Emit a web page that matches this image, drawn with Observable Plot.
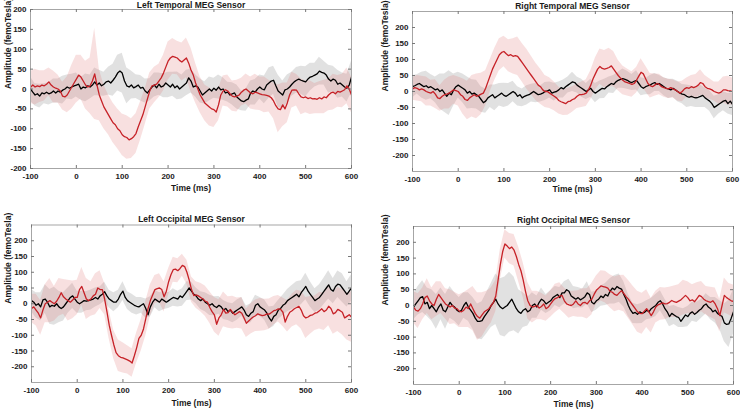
<!DOCTYPE html>
<html><head><meta charset="utf-8">
<script src="https://cdn.jsdelivr.net/npm/d3@7"></script>
<script src="https://cdn.jsdelivr.net/npm/@observablehq/plot@0.6"></script>
<style>
body{margin:0;background:#fff}
#chart{position:relative;width:740px;height:409px;overflow:hidden;background:#fff}
#chart svg{position:absolute}
</style>
</head><body><div id="chart"></div>
<script>
// ---- axes / labels ----
const xTicks = [-100, 0, 100, 200, 300, 400, 500, 600];
const yTicks = [-200, -150, -100, -50, 0, 50, 100, 150, 200];
const panelTitles = ["Left Temporal MEG Sensor", "Right Temporal MEG Sensor", "Left Occipital MEG Sensor", "Right Occipital MEG Sensor"];
const yLabel = "Amplitude (femoTesla)";
const xLabel = "Time (ms)";
const times5 = d3.range(-100, 601, 5);    // mean traces sampled every 5 ms
const times10 = d3.range(-100, 601, 10);  // band half-widths sampled every 10 ms

// ---- Left Temporal ----
const ltRed = [
  4, 10, 5, 8, 6, 10, 8, 12, 18, 10,
  5, 2, 0, -5, -18, -20, -15, -5, 5, 15,
  25, 35, 30, 20, 10, 5, 8, 20, 38, 10,
  -15, -30, -45, -55, -65, -75, -85, -90, -100, -105,
  -115, -120, -122, -128, -125, -120, -112, -95, -80, -65,
  -45, -25, -5, 8, 10, 12, 20, 28, 40, 55,
  70, 78, 82, 80, 78, 72, 68, 73, 78, 65,
  48, 35, 15, 0, -15, -25, -35, -40, -45, -50,
  -52, -58, -40, -15, -5, -2, -5, -12, -18, -20,
  -18, -15, -8, -3, 0, -5, -10, -12, -8, -10,
  -12, -14, -15, -16, -18, -22, -30, -42, -50, -52,
  -40, -50, -35, -15, -3, -2, -3, -12, -20, -22,
  -20, -24, -22, -25, -24, -26, -22, -25, -20, -22,
  -15, -10, -8, -12, -6, -8, -5, -2, 8, 0,
  -15];
const ltBlack = [
  0, -8, -15, -12, -18, -10, -12, -8, -12, -10,
  -5, -10, -5, -8, -3, 0, 5, 2, 5, 8,
  10, 12, 0, 5, 3, 8, 5, 10, 18, 10,
  15, 8, 12, 18, 20, 15, 22, 30, 40, 45,
  40, 20, 8, 5, 10, 3, 6, 10, 2, 4,
  -5, -10, -2, 5, 10, 3, 12, 5, 8, 15,
  10, 5, 12, 3, 8, 0, 5, 10, 15, 28,
  20, 5, 8, 5, -5, -15, -10, -5, 0, -5,
  2, -3, 5, -2, 0, -10, -8, -15, -12, -10,
  -20, -25, -30, -32, -28, -25, -10, -5, -8, 0,
  5, 0, -2, 10, 15, 20, 22, 8, -5, -10,
  -15, -2, 0, 5, 12, 18, 22, 25, 22, 20,
  18, 25, 30, 32, 35, 38, 45, 42, 40, 35,
  25, 20, 25, 22, 12, 15, 10, 5, 2, 10,
  30];
const ltRedSd = [
  40, 45, 40, 38, 35, 40, 35, 35, 45, 55,
  60, 55, 60, 70, 115, 65, 55, 50, 50, 50,
  52, 55, 50, 50, 48, 45, 45, 45, 42, 45,
  48, 45, 42, 48, 50, 55, 50, 45, 45, 48,
  45, 40, 38, 40, 38, 40, 35, 38, 40, 45,
  42, 45, 40, 45, 60, 55, 50, 45, 40, 45,
  40, 42, 38, 40, 42, 40, 45, 40, 42, 45,
  45];
const ltBlackSd = [
  30, 28, 30, 25, 28, 30, 30, 35, 30, 32,
  30, 28, 35, 30, 35, 32, 30, 35, 40, 45,
  50, 45, 35, 30, 32, 30, 28, 30, 28, 30,
  32, 30, 35, 30, 32, 30, 28, 30, 28, 30,
  25, 30, 28, 25, 28, 30, 25, 28, 30, 32,
  30, 35, 38, 35, 40, 35, 35, 30, 32, 35,
  38, 35, 30, 35, 30, 35, 32, 35, 30, 35,
  40];

// ---- Right Temporal ----
const rtRed = [
  8, 12, 10, 5, 8, 5, 0, -3, -5, 0,
  -8, -20, -22, -15, -10, -8, -5, 0, 5, 3,
  0, -10, -15, -25, -28, -20, -15, -10, -15, -12,
  -8, -5, 10, 30, 50, 70, 85, 100, 115, 122,
  125, 118, 112, 115, 110, 112, 110, 100, 90, 80,
  70, 60, 50, 40, 30, 20, 15, 5, 0, 0,
  -5, -10, -15, -20, -28, -32, -35, -38, -32, -30,
  -25, -22, -15, -10, -10, -8, -5, 5, 20, 40,
  55, 70, 78, 72, 70, 72, 75, 80, 70, 60,
  50, 42, 35, 30, 28, 25, 22, 25, 35, 48,
  60, 55, 40, 25, 18, 15, 20, 25, 22, 15,
  12, 10, 8, 12, 8, 5, 0, -5, 0, 8,
  12, 10, 15, 12, 15, 20, 28, 25, 15, 10,
  8, 5, 0, -3, -5, -2, 5, 5, 3, 2,
  0];
const rtBlack = [
  15, 18, 22, 25, 20, 15, 18, 12, 15, 10,
  5, 8, 0, 5, -5, -15, -5, -10, 5, 15,
  20, 15, 10, 5, -5, 0, -8, -5, -10, -15,
  -25, -35, -30, -20, -15, -10, -20, -15, -10, -5,
  -12, -15, -10, -5, 0, -5, -15, -10, -20, -15,
  -12, -10, -5, 0, -5, -10, -8, -5, 0, 2,
  5, -5, -2, 0, 5, 12, 8, 15, 20, 25,
  30, 28, 20, 15, 10, 5, 0, 5, 10, 0,
  -5, 0, 5, 10, 8, 15, 20, 25, 22, 30,
  35, 38, 40, 38, 35, 30, 28, 32, 35, 25,
  15, 10, 15, 18, 20, 25, 28, 22, 25, 20,
  15, 10, 8, 5, 10, 5, 0, -5, -8, -10,
  -15, -18, -15, -18, -20, -18, -15, -12, -20, -25,
  -30, -38, -50, -45, -40, -35, -30, -28, -38, -30,
  -40];
const rtRedSd = [
  35, 40, 40, 45, 40, 45, 40, 45, 50, 45,
  45, 55, 60, 65, 70, 65, 55, 50, 50, 50,
  48, 50, 55, 60, 60, 62, 60, 58, 55, 50,
  48, 45, 42, 40, 42, 40, 38, 40, 42, 45,
  50, 55, 58, 60, 55, 48, 45, 42, 40, 40,
  42, 40, 38, 35, 32, 30, 30, 28, 30, 32,
  30, 35, 38, 40, 35, 32, 30, 35, 40, 45,
  42];
const rtBlackSd = [
  35, 30, 40, 45, 38, 40, 55, 60, 70, 50,
  40, 45, 50, 45, 45, 40, 38, 35, 40, 35,
  38, 35, 32, 30, 28, 30, 28, 30, 25, 28,
  25, 28, 25, 28, 25, 30, 25, 28, 25, 28,
  30, 28, 30, 25, 28, 25, 30, 28, 25, 30,
  28, 25, 30, 28, 25, 28, 30, 28, 32, 30,
  35, 32, 30, 35, 30, 32, 35, 30, 30, 32,
  35];

// ---- Left Occipital ----
const loRed = [
  -15, -10, -20, -30, -45, -20, 0, 5, 10, 5,
  0, 8, 20, 35, 22, 15, 10, 5, 12, 20,
  20, 45, 55, 35, 15, 10, 15, 25, 30, 50,
  45, 45, 15, -25, -68, -100, -130, -155, -165, -170,
  -172, -175, -178, -182, -188, -165, -140, -110, -100, -80,
  -47, -15, 10, 28, 45, 48, 50, 45, 22, 40,
  70, 92, 108, 110, 105, 112, 122, 118, 100, 75,
  45, 26, 28, 25, 20, 15, 8, 5, -12, -25,
  -35, -65, -45, -35, -18, -30, -28, -18, -28, -35,
  -30, -25, -30, -45, -62, -55, -48, -42, -38, -32,
  -35, -38, -36, -32, -33, -28, -22, -20, -16, -18,
  -27, -58, -40, -27, -22, -16, -12, -8, -20, -38,
  -45, -42, -37, -35, -30, -28, -22, -16, -25, -20,
  -8, -15, -32, -28, -18, -22, -27, -45, -40, -35,
  -42];
const loBlack = [
  10, 5, -5, 0, -10, 12, 15, 5, -10, -5,
  -8, 0, -10, -15, -10, 0, 10, 20, 25, 15,
  5, 0, 5, 10, 8, 10, 12, 15, 20, 15,
  25, 30, 38, 25, 15, 10, 5, 5, 15, 30,
  40, 20, 10, 5, 0, -5, -8, -10, -5, 0,
  -15, -35, -10, 5, 15, 10, 5, 15, 10, 5,
  10, 15, 20, 18, 15, 25, 20, 30, 40, 50,
  40, 30, 25, 15, 10, 15, 5, 0, -5, 0,
  -8, -12, -5, -10, -20, -15, -25, -20, -30, -25,
  -20, -15, -10, -20, -35, -40, -30, -25, -5, 0,
  -10, -15, -20, -30, -45, -55, -40, -35, -20, -15,
  -5, 0, 10, 15, 20, 25, 30, 22, 35, 45,
  55, 40, 30, 20, 10, 15, 20, 30, 40, 50,
  60, 45, 40, 55, 62, 60, 50, 40, 30, 40,
  50];
const loRedSd = [
  45, 50, 55, 60, 70, 55, 60, 55, 65, 60,
  55, 60, 65, 55, 65, 60, 50, 45, 45, 50,
  48, 45, 45, 48, 50, 55, 50, 45, 45, 48,
  42, 40, 38, 35, 38, 40, 42, 45, 48, 50,
  55, 58, 55, 50, 52, 48, 50, 45, 48, 50,
  52, 50, 48, 45, 42, 45, 50, 52, 55, 60,
  65, 60, 55, 58, 60, 62, 65, 70, 72, 75,
  80];
const loBlackSd = [
  35, 40, 45, 45, 55, 60, 50, 45, 40, 40,
  35, 35, 30, 32, 30, 28, 30, 28, 30, 28,
  30, 28, 30, 28, 25, 30, 32, 28, 30, 28,
  25, 28, 25, 28, 30, 28, 25, 28, 30, 32,
  30, 28, 30, 28, 30, 32, 30, 28, 30, 32,
  30, 32, 35, 32, 30, 32, 35, 38, 40, 38,
  42, 40, 38, 40, 42, 45, 40, 42, 45, 40,
  42];

// ---- Right Occipital ----
const roRed = [
  -5, -15, -18, -10, 5, 25, 30, 15, 5, 0,
  20, 35, 25, 15, 5, 0, -5, 0, -8, -10,
  -18, -20, -15, -5, -10, 5, -10, -25, -35, -40,
  -30, -20, -15, -10, 0, 10, 30, 80, 130, 170,
  195, 188, 180, 185, 175, 155, 130, 110, 80, 45,
  15, 0, -5, -3, 0, -8, -3, 5, -10, -5,
  5, 15, 22, 25, 30, 32, 15, 5, 2, 0,
  5, 15, 5, 0, 8, 10, 5, 15, 20, 35,
  48, 55, 62, 60, 58, 55, 45, 42, 35, 32,
  40, 47, 38, 28, 20, 10, 0, -10, -20, -25,
  -26, -18, -10, -20, -32, -20, -5, 2, 5, 8,
  5, 6, 10, 16, 12, 10, 14, 18, 25, 32,
  25, 15, 18, 12, 22, 32, 28, 20, 15, 12,
  10, 15, 5, -10, -32, 0, 32, 25, 20, 15,
  13];
const roBlack = [
  -5, 5, 15, 25, 28, 5, 10, -10, 0, -10,
  -20, -5, 5, -15, -20, -5, 10, 0, -5, -15,
  -20, -15, 0, 10, -5, -15, -25, -40, -50, -50,
  -48, -35, -25, -15, 0, 10, 20, 5, -5, -10,
  -5, 0, 10, 20, 5, -10, -20, -25, -15, -10,
  -20, -15, 0, 5, -5, 10, 20, 15, 5, 10,
  15, 25, 30, 35, 25, 40, 40, 50, 45, 30,
  25, 20, 25, 18, 22, 28, 40, 35, 10, 5,
  15, 20, 30, 25, 35, 30, 45, 55, 50, 60,
  55, 52, 35, 20, 0, -15, -25, -22, -28, -20,
  -25, -22, -15, -20, -10, -5, 0, 10, 15, 5,
  -10, -20, -35, -25, -30, -35, -38, -50, -40, -30,
  -35, -25, -20, -28, -22, -15, -10, 0, 5, -5,
  -10, -20, -15, -25, -30, -35, -55, -60, -58, -40,
  -20];
const roRedSd = [
  50, 55, 50, 55, 50, 55, 50, 48, 55, 50,
  52, 55, 60, 70, 75, 70, 60, 55, 50, 48,
  45, 48, 50, 55, 55, 58, 50, 45, 42, 40,
  42, 45, 42, 40, 42, 40, 42, 45, 48, 50,
  45, 48, 50, 52, 55, 55, 58, 60, 62, 65,
  65, 60, 55, 50, 52, 50, 48, 50, 52, 55,
  50, 48, 50, 48, 45, 48, 50, 52, 55, 50,
  52];
const roBlackSd = [
  40, 45, 50, 45, 50, 55, 50, 55, 50, 45,
  45, 40, 45, 50, 55, 60, 65, 70, 80, 90,
  95, 95, 85, 70, 55, 45, 40, 35, 35, 30,
  32, 30, 32, 35, 38, 35, 32, 30, 35, 32,
  30, 32, 35, 40, 45, 45, 40, 35, 32, 30,
  32, 30, 32, 35, 32, 30, 32, 30, 32, 30,
  32, 30, 32, 30, 32, 35, 40, 45, 60, 75,
  70];

// ---- drawing ----
const RED = "#c62127";
const FONT = "'Liberation Sans', Arial, Helvetica, sans-serif";

function band(mean, sd) {
  return times10.map((t, i) => ({t, lo: mean[2 * i] - sd[i], hi: mean[2 * i] + sd[i]}));
}
function trace(vals) {
  return times5.map((t, i) => ({t, v: vals[i]}));
}

function drawPanel(p) {
  const {title, red, black, redSd, blackSd, yDomain, left, top, width, height, mt, mr, mb, ml, yLabelDx, xLabelDy, titleDy} = p;
  const ph = height - mt - mb, pw = width - ml - mr;
  const svg = Plot.plot({
    width, height,
    marginTop: mt, marginRight: mr, marginBottom: mb, marginLeft: ml,
    x: {domain: [-100, 600]},
    y: {domain: yDomain},
    style: {fontFamily: FONT, fontSize: "8px", fontWeight: "bold", color: "#1a1a1a", background: "transparent", overflow: "visible"},
    marks: [
      Plot.area(band(black, blackSd), {x1: "t", y1: "lo", y2: "hi", fill: "#8c8c8c", fillOpacity: 0.26, clip: true}),
      Plot.area(band(red, redSd), {x1: "t", y1: "lo", y2: "hi", fill: "#e07878", fillOpacity: 0.23, clip: true}),
      Plot.lineY(trace(black), {x: "t", y: "v", stroke: "#000", strokeWidth: 1.3, clip: true}),
      Plot.lineY(trace(red), {x: "t", y: "v", stroke: RED, strokeWidth: 1.3, clip: true}),
      Plot.frame({stroke: "#a6a6a6"}),
      Plot.tickX(xTicks, {x: d => d, insetTop: ph - 3, stroke: "#777"}),
      Plot.tickX(xTicks, {x: d => d, insetBottom: ph - 3, stroke: "#777"}),
      Plot.tickY(yTicks, {y: d => d, insetRight: pw - 3, stroke: "#777"}),
      Plot.tickY(yTicks, {y: d => d, insetLeft: pw - 3, stroke: "#777"}),
      Plot.axisX(xTicks, {tickSize: 0, tickPadding: 5, tickFormat: d => String(d), label: null}),
      Plot.axisY(yTicks, {tickSize: 0, tickPadding: 4, tickFormat: d => String(d), label: null}),
      Plot.text([title], {text: d => d, frameAnchor: "top", dy: titleDy, fontSize: 8.5, fontWeight: "bold", lineAnchor: "middle", fill: "#1a1a1a"}),
      Plot.text([xLabel], {text: d => d, frameAnchor: "bottom", dy: xLabelDy, fontSize: 8.5, fontWeight: "bold", lineAnchor: "middle", fill: "#1a1a1a"}),
      Plot.text([yLabel], {text: d => d, frameAnchor: "left", dx: yLabelDx, rotate: -90, fontSize: 8.5, fontWeight: "bold", lineAnchor: "middle", fill: "#1a1a1a"})
    ]
  });
  svg.style.left = left + "px";
  svg.style.top = top + "px";
  document.getElementById("chart").appendChild(svg);
}

drawPanel({title: panelTitles[0], red: ltRed, black: ltBlack, redSd: ltRedSd, blackSd: ltBlackSd,
  yDomain: [-200, 200], left: 0, top: 0, width: 370, height: 205, mt: 9, mr: 19, mb: 37, ml: 30, yLabelDx: -22, xLabelDy: 20, titleDy: -4.5});
drawPanel({title: panelTitles[1], red: rtRed, black: rtBlack, redSd: rtRedSd, blackSd: rtBlackSd,
  yDomain: [-250, 250], left: 370, top: 0, width: 370, height: 205, mt: 11, mr: 8, mb: 34, ml: 42, yLabelDx: -27, xLabelDy: 18, titleDy: -5.5});
drawPanel({title: panelTitles[2], red: loRed, black: loBlack, redSd: loRedSd, blackSd: loBlackSd,
  yDomain: [-250, 250], left: 0, top: 205, width: 370, height: 204, mt: 19.5, mr: 19, mb: 27, ml: 31, yLabelDx: -23, xLabelDy: 21, titleDy: -6});
drawPanel({title: panelTitles[3], red: roRed, black: roBlack, redSd: roRedSd, blackSd: roBlackSd,
  yDomain: [-250, 250], left: 370, top: 205, width: 370, height: 204, mt: 21, mr: 7, mb: 25, ml: 43, yLabelDx: -28, xLabelDy: 20, titleDy: -6});
</script>
</body></html>
